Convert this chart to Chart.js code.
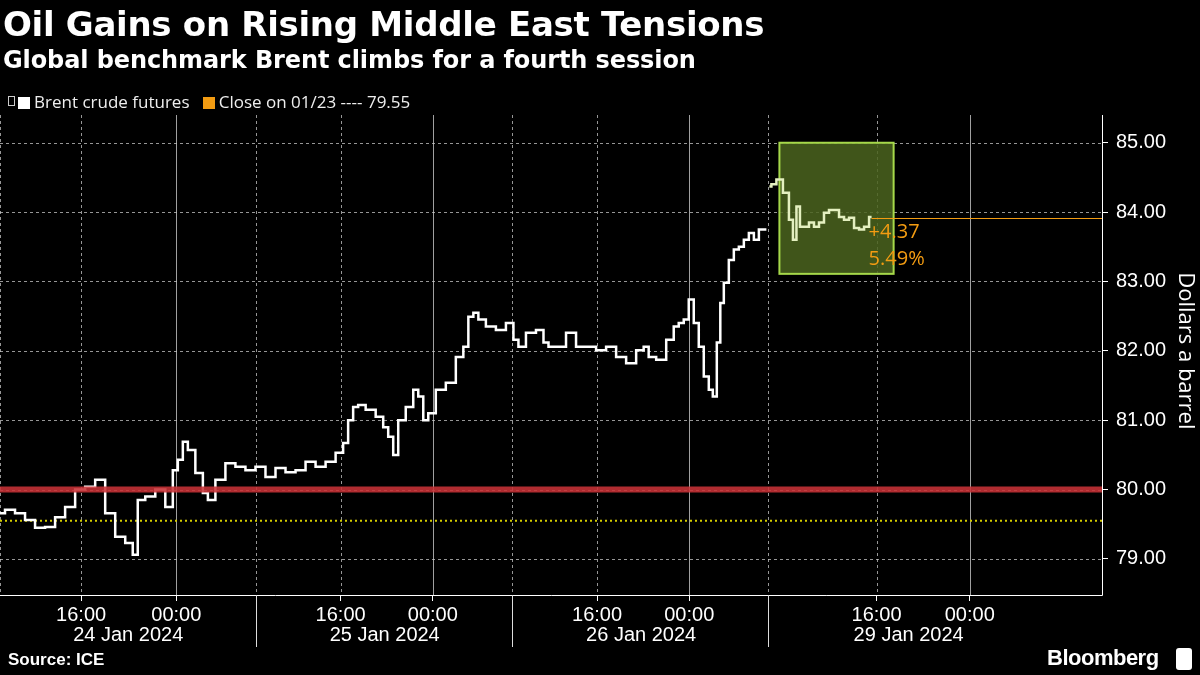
<!DOCTYPE html>
<html><head><meta charset="utf-8">
<script src="https://cdn.jsdelivr.net/npm/chart.js@4"></script>
<style>
html,body{margin:0;padding:0;background:#000;width:1200px;height:675px;overflow:hidden;font-family:"Liberation Sans",Arial,sans-serif;color:#fff}
#wrap{position:absolute;left:0;top:0;width:1200px;height:675px}
.t{position:absolute;white-space:nowrap}
#title{left:3px;top:4px;font-size:34px;font-weight:bold;font-family:"DejaVu Sans",sans-serif;letter-spacing:-0.3px}
#sub{left:3px;top:46px;font-size:24px;font-weight:bold;font-family:"DejaVu Sans",sans-serif;letter-spacing:-0.1px}
#legend{left:8px;top:90px;font-size:17px;font-family:"Open Sans",sans-serif;color:#eee}
.sw{display:inline-block;width:12px;height:12px;vertical-align:-1px;margin-right:4px}
#src{left:8px;top:650px;font-size:17px;font-weight:bold;font-family:"Liberation Sans Narrow","Liberation Sans",sans-serif}
#bb{left:1047px;top:645px;font-size:22px;font-weight:bold;font-family:"Liberation Sans Narrow","Liberation Sans",sans-serif;letter-spacing:-0.5px}
#logo{position:absolute;left:1176px;top:648px;width:16px;height:22px;background:#fff;border-radius:3px}
</style></head><body>
<div id="wrap"><canvas id="c" width="1200" height="675"></canvas></div>
<div class="t" id="title">Oil Gains on Rising Middle East Tensions</div>
<div class="t" id="sub">Global benchmark Brent climbs for a fourth session</div>
<div class="t" id="legend"><span style="display:inline-block;width:5px;height:8px;border:1px solid #ccc;margin-right:3px;vertical-align:2px"></span><span class="sw" style="background:#fff"></span>Brent crude futures&nbsp;&nbsp;&nbsp;<span class="sw" style="background:#f39c12"></span>Close on 01/23 ---- 79.55</div>
<div class="t" id="src">Source: ICE</div>
<div class="t" id="bb">Bloomberg</div>
<div id="logo"></div>
<script>
// time slots (trading-time index) and prices
const slotsA = [0,2,4,6,8,10,12,14,16,18,20,22,24,26,27,28,30,32,34,35,36,37,38,40,41,42,44,46,48,50,52,54,56,58,60,62,64,66,68,69,70,71,72,74,76,77,78,79,80,82,83,84,85,86,88,90,92,93,94,95,96,98,100,102,103,104,106,108,109,110,112,114,116,118,120,122,124,126,128,129,130,132,134,135,136,137,138,139,140,141,142,142.6,143.6,144,145,146,147,148,149,150,151,152,153];
const pricesA = [79.66,79.71,79.66,79.56,79.45,79.46,79.6,79.75,80.0,80.04,80.14,79.66,79.32,79.23,79.06,79.85,79.9,80.0,79.75,80.28,80.43,80.69,80.57,80.24,79.95,79.85,80.14,80.38,80.33,80.28,80.33,80.18,80.31,80.25,80.28,80.4,80.33,80.4,80.53,80.67,81.0,81.19,81.22,81.15,81.05,80.9,80.76,80.5,81.0,81.19,81.44,81.34,81.0,81.1,81.44,81.54,81.91,82.06,82.49,82.55,82.45,82.35,82.3,82.4,82.16,82.06,82.26,82.3,82.12,82.06,82.06,82.26,82.06,82.06,82.01,82.06,81.91,81.82,82.01,82.06,81.91,81.87,82.16,82.35,82.4,82.45,82.74,82.4,82.06,81.63,81.44,81.34,82.12,82.69,82.98,83.31,83.46,83.5,83.6,83.7,83.6,83.75,83.75,83.7,83.64];
const slotsB = [153.6,154.4,155.6,157,158,158.6,159.4,160,161,162,163,164,165,166,167,168,169,170,171,172,173,174];
const pricesB = [84.37,84.4,84.47,84.28,83.89,83.6,84.08,83.79,83.79,83.85,83.79,83.85,83.99,84.03,84.03,83.93,83.89,83.92,83.77,83.75,83.79,83.93];
const prevClose = 79.55;
const lastClose = 83.92;
const changeLabel = ["+4.37","5.49%"];
const yTicks = [79,80,81,82,83,84,85];
const gridSlots = [0,16.2,35.2,51.2,68,86.4,102.2,119.2,137.6,153.4,175,193.6];
const solidSlots = [35.2,86.4,137.6,193.6];
const timeTicks = [16.2,35.2,68,86.4,119.2,137.6,175,193.6];
const timeLabels = ["16:00","00:00","16:00","00:00","16:00","00:00","16:00","00:00"];
const daySep = [51.2,102.2,153.4];
const dayLabels = ["24 Jan 2024","25 Jan 2024","26 Jan 2024","29 Jan 2024"];
const dayCenters = [25.6,76.8,128,181.4];
const boxRange = {x0:155.6,x1:178.4,y0:83.11,y1:85.0};

const tickFont = {family:"'Liberation Sans Narrow','Liberation Sans',sans-serif",size:20};

const deco = {
  id:'deco',
  beforeDatasetsDraw(ch){
    const {ctx,chartArea:a,scales:{x,y}} = ch;
    ctx.save();
    ctx.lineWidth=1;
    ctx.strokeStyle='rgba(200,200,200,0.75)'; ctx.setLineDash([3,3]);
    yTicks.forEach(v=>{const p=Math.round(y.getPixelForValue(v))+0.5;ctx.beginPath();ctx.moveTo(a.left,p);ctx.lineTo(a.right,p);ctx.stroke();});
    gridSlots.forEach(s=>{
      const p=Math.round(x.getPixelForValue(s))+0.5;
      if(solidSlots.includes(s)){ctx.setLineDash([]);ctx.strokeStyle='rgba(200,200,200,0.8)';}
      else{ctx.setLineDash([3,3]);ctx.strokeStyle='rgba(200,200,200,0.75)';}
      ctx.beginPath();ctx.moveTo(p,a.top);ctx.lineTo(p,a.bottom);ctx.stroke();
    });
    ctx.setLineDash([]);
    const bx0=x.getPixelForValue(boxRange.x0),bx1=x.getPixelForValue(boxRange.x1);
    const by0=y.getPixelForValue(boxRange.y1),by1=y.getPixelForValue(boxRange.y0);
    ctx.fillStyle='rgba(75,100,30,0.85)';ctx.fillRect(bx0,by0,bx1-bx0,by1-by0);
    ctx.strokeStyle='#a6d84a';ctx.lineWidth=2;ctx.strokeRect(bx0,by0,bx1-bx0,by1-by0);
    const py=y.getPixelForValue(prevClose);
    ctx.strokeStyle='#d4cc00';ctx.lineWidth=2;ctx.setLineDash([2,3]);
    ctx.beginPath();ctx.moveTo(a.left,py);ctx.lineTo(a.right,py);ctx.stroke();
    ctx.setLineDash([]);
    const lx=x.getPixelForValue(slotsB[slotsB.length-1]),ly=Math.round(y.getPixelForValue(lastClose))+0.5;
    ctx.strokeStyle='#f39c12';ctx.lineWidth=1;
    ctx.beginPath();ctx.moveTo(lx,ly);ctx.lineTo(a.right,ly);ctx.stroke();
    ctx.restore();
  },
  afterDatasetsDraw(ch){
    const {ctx,chartArea:a,scales:{x,y}} = ch;
    ctx.save();
    const ry=y.getPixelForValue(80);
    ctx.strokeStyle='rgba(200,50,55,0.88)';ctx.lineWidth=6;
    ctx.beginPath();ctx.moveTo(a.left,ry);ctx.lineTo(a.right,ry);ctx.stroke();
    const lx=x.getPixelForValue(slotsB[slotsB.length-1]),ly=y.getPixelForValue(lastClose);
    ctx.fillStyle='#f39c12';ctx.font="20px 'Open Sans',sans-serif";ctx.textBaseline='middle';ctx.textAlign='left';
    ctx.fillText(changeLabel[0],lx-3,ly+15);ctx.fillText(changeLabel[1],lx-3,ly+42);
    ctx.strokeStyle='#fff';ctx.lineWidth=1;
    ctx.beginPath();ctx.moveTo(a.left,a.bottom+0.5);ctx.lineTo(a.right+0.5,a.bottom+0.5);ctx.lineTo(a.right+0.5,a.top);ctx.stroke();
    ctx.strokeStyle='#ddd';
    daySep.forEach(s=>{const p=Math.round(x.getPixelForValue(s))+0.5;ctx.beginPath();ctx.moveTo(p,a.bottom);ctx.lineTo(p,a.bottom+52);ctx.stroke();});
    ctx.fillStyle='#fff';ctx.font="20px 'Liberation Sans Narrow','Liberation Sans',sans-serif";ctx.textAlign='center';ctx.textBaseline='middle';
    dayLabels.forEach((l,i)=>ctx.fillText(l,x.getPixelForValue(dayCenters[i]),a.bottom+40));
    ctx.translate(1185,y.getPixelForValue(82));ctx.rotate(Math.PI/2);
    ctx.font="22px 'Open Sans',sans-serif";ctx.fillText('Dollars a barrel',0,0);
    ctx.restore();
  }
};

new Chart(document.getElementById('c'),{
  type:'line',
  data:{datasets:[
    {data:slotsA.map((s,i)=>({x:s,y:pricesA[i]})),borderColor:'#fff',borderWidth:2.5,pointRadius:0,stepped:'middle'},
    {data:slotsB.map((s,i)=>({x:s,y:pricesB[i]})),borderColor:'#e4f0c0',borderWidth:2.5,pointRadius:0,stepped:'middle'}
  ]},
  options:{
    responsive:false,animation:false,
    layout:{padding:{top:115,left:0,right:0,bottom:0}},
    plugins:{legend:{display:false},tooltip:{enabled:false}},
    scales:{
      x:{type:'linear',min:0,max:220,
        afterBuildTicks(s){s.ticks=timeTicks.map(v=>({value:v}));},
        afterFit(s){s.height=80;},
        ticks:{color:'#fff',font:tickFont,autoSkip:false,maxRotation:0,padding:2,
          callback:(v,i)=>timeLabels[i]},
        grid:{drawOnChartArea:false,color:'#fff',tickLength:6},border:{display:false}},
      y:{position:'right',min:78.48,max:85.4,
        afterBuildTicks(s){s.ticks=yTicks.map(v=>({value:v}));},
        afterFit(s){s.width=98;},
        ticks:{color:'#fff',font:tickFont,padding:8,callback:v=>v.toFixed(2)},
        grid:{drawOnChartArea:false,color:'#fff',tickLength:6},border:{display:false}}
    }
  },
  plugins:[deco]
});
</script></body></html>
